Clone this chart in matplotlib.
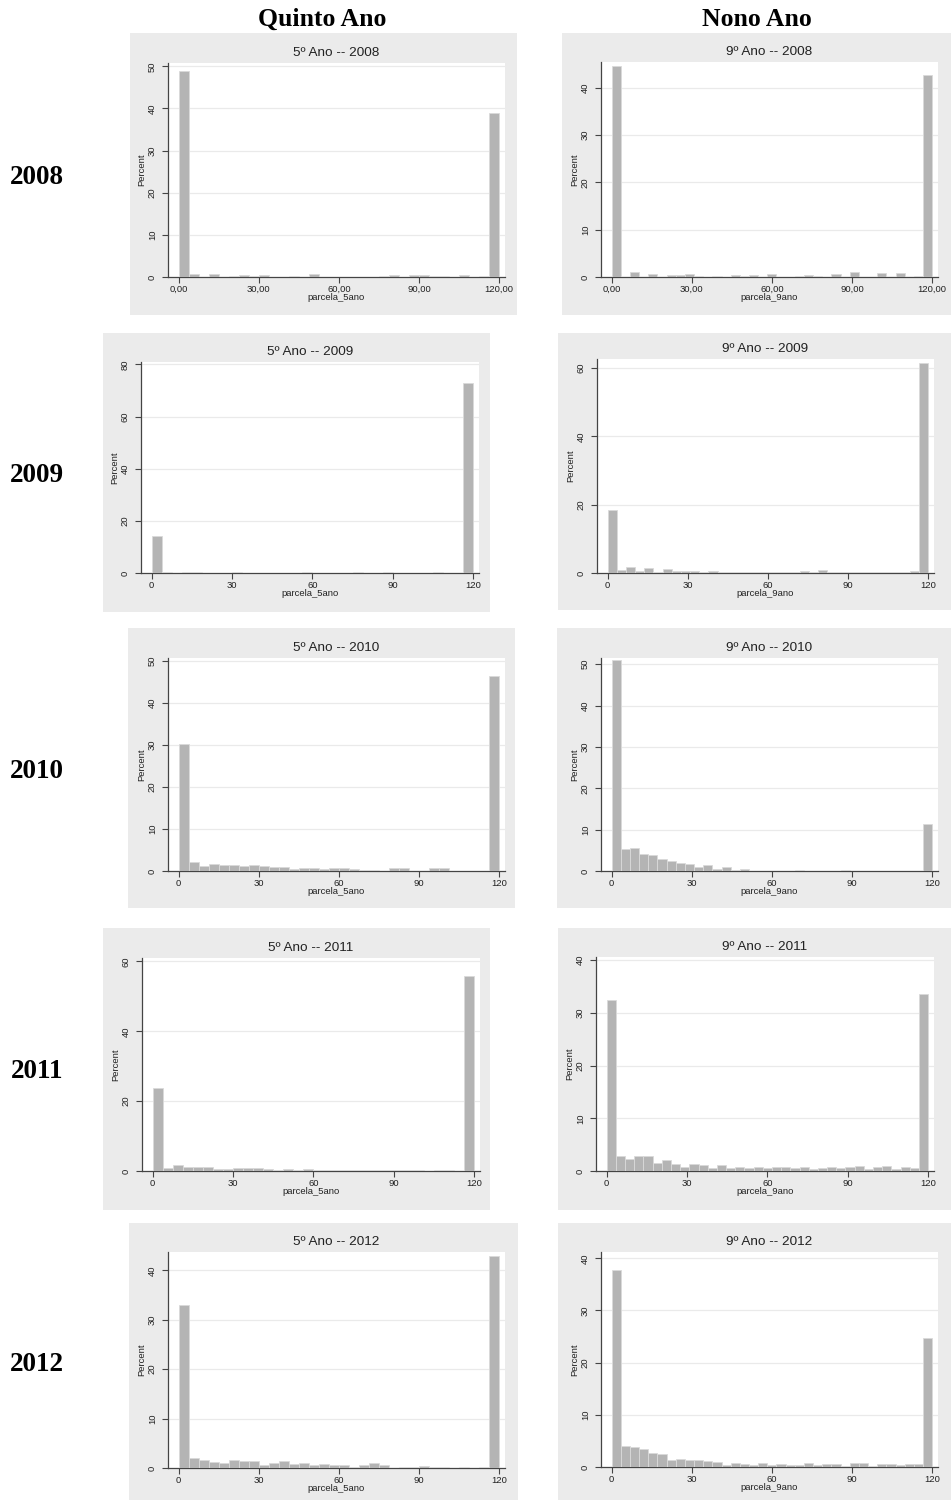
import matplotlib
matplotlib.use("Agg")
import matplotlib.pyplot as plt
from matplotlib.patches import Rectangle

W, H = 951, 1501

# Percent per bin, 5º ano uses 32 bins and 9º ano 35 bins over 0-120
ano5_2008 = [48.8, 0.8, 0, 0.8, 0, 0.3, 0.5, 0.3, 0.5, 0, 0, 0.3, 0, 0.8, 0, 0,
             0, 0, 0, 0, 0.3, 0.5, 0, 0.5, 0.5, 0.3, 0.3, 0, 0.5, 0, 0.3, 38.9]
ano9_2008 = [44.6, 0, 1.0, 0, 0.7, 0, 0.5, 0.5, 0.7, 0.3, 0, 0.3, 0, 0.5, 0.3, 0.5,
             0, 0.7, 0, 0, 0.3, 0.5, 0.3, 0, 0.7, 0, 1.0, 0, 0, 0.8, 0, 0.8, 0, 0.3, 42.7]
ano5_2009 = [14.3, 0.4, 0, 0.4, 0.4, 0, 0, 0, 0.4, 0, 0, 0, 0, 0, 0, 0.4,
             0, 0, 0, 0, 0.4, 0, 0, 0.4, 0, 0, 0, 0, 0.4, 0, 0, 73.0]
ano9_2009 = [18.3, 1.0, 1.9, 0.7, 1.4, 0.4, 1.2, 0.6, 0.6, 0.6, 0.3, 0.6, 0.2, 0.3, 0.2, 0.3,
             0.3, 0.2, 0.2, 0.3, 0.2, 0.6, 0.2, 0.9, 0.2, 0.3, 0.2, 0.2, 0.3, 0.2, 0.3, 0.2,
             0.3, 0.6, 61.5]
ano5_2010 = [30.2, 2.1, 1.2, 1.6, 1.4, 1.4, 1.2, 1.4, 1.3, 1.0, 1.0, 0.4, 0.8, 0.8, 0.4, 0.6,
             0.8, 0.5, 0.3, 0.3, 0.1, 0.6, 0.6, 0.1, 0.1, 0.6, 0.6, 0.1, 0, 0, 0.1, 46.4]
ano9_2010 = [51.0, 5.3, 5.6, 4.2, 3.8, 2.8, 2.4, 2.0, 1.8, 1.0, 1.4, 0.6, 1.0, 0.3, 0.6, 0.1,
             0.1, 0.1, 0.1, 0.1, 0.3, 0.1, 0.1, 0.1, 0.1, 0.3, 0.1, 0.1, 0.1, 0.1, 0.1, 0.1,
             0.1, 0.1, 11.3]
ano5_2011 = [23.8, 0.9, 1.6, 1.1, 1.1, 1.1, 0.6, 0.6, 0.9, 0.9, 0.9, 0.6, 0.3, 0.6, 0.2, 0.6,
             0.3, 0.2, 0.3, 0.2, 0.3, 0.2, 0.3, 0.2, 0.3, 0.3, 0.3, 0.1, 0.2, 0.3, 0.1, 55.9]
ano9_2011 = [32.4, 2.8, 2.2, 2.8, 2.8, 1.6, 2.0, 1.3, 0.8, 1.3, 1.1, 0.5, 1.1, 0.5, 0.7, 0.5,
             0.8, 0.5, 0.7, 0.7, 0.5, 0.7, 0.3, 0.5, 0.8, 0.5, 0.7, 1.0, 0.3, 0.8, 1.0, 0.3,
             0.8, 0.5, 33.6]
ano5_2012 = [32.9, 2.0, 1.6, 1.2, 1.0, 1.7, 1.35, 1.35, 0.7, 1.0, 1.35, 0.9, 1.0, 0.7, 0.9, 0.7,
             0.7, 0.3, 0.7, 1.0, 0.7, 0.1, 0.3, 0.3, 0.5, 0.3, 0.3, 0.1, 0.3, 0.1, 0.3, 42.8]
ano9_2012 = [37.7, 4.1, 3.9, 3.4, 2.7, 2.4, 1.4, 1.6, 1.3, 1.3, 1.1, 1.0, 0.45, 0.8, 0.6, 0.45,
             0.8, 0.45, 0.6, 0.45, 0.3, 0.8, 0.3, 0.6, 0.6, 0.1, 0.8, 0.8, 0.1, 0.6, 0.6, 0.3,
             0.6, 0.6, 24.7]

years = ["2008", "2009", "2010", "2011", "2012"]
series5 = [ano5_2008, ano5_2009, ano5_2010, ano5_2011, ano5_2012]
series9 = [ano9_2008, ano9_2009, ano9_2010, ano9_2011, ano9_2012]
xticks = [0, 30, 60, 90, 120]
ystep5 = [10, 20, 10, 20, 10]
ystep9 = [10, 20, 10, 10, 10]

# layout in pixels: grey panel, plot region, y limit top
left_panels = [
    ((130, 33, 517, 315), (168, 63, 505, 277), 50.8),
    ((103, 333, 490, 612), (141, 362, 479, 573), 80.9),
    ((128, 628, 515, 908), (168, 658, 505, 871), 50.6),
    ((103, 928, 490, 1210), (142, 958, 480, 1171), 61.0),
    ((129, 1223, 518, 1500), (168, 1252, 505, 1468), 43.7),
]
right_panels = [
    ((562, 33, 951, 315), (601, 62, 938, 277), 45.5),
    ((558, 333, 951, 610), (597, 359, 934, 573), 62.6),
    ((557, 628, 951, 908), (601, 658, 938, 871), 51.5),
    ((558, 928, 951, 1210), (596, 957, 934, 1171), 40.6),
    ((558, 1223, 951, 1500), (601, 1252, 938, 1467), 41.2),
]

PANEL_BG = "#ebebeb"
BAR = "#b4b4b4"
SANS = ["Liberation Sans", "DejaVu Sans"]
SERIF = ["Liberation Serif", "DejaVu Serif"]
SMALL = 6.8


def frac(box):
    x0, y0, x1, y1 = box
    return [x0 / W, 1 - y1 / H, (x1 - x0) / W, (y1 - y0) / H]


def draw_panel(fig, grey, plot, ytop, values, step, title, xname, decimals):
    gx, gy, gw, gh = frac(grey)
    fig.patches.append(Rectangle((gx, gy), gw, gh, transform=fig.transFigure,
                                 facecolor=PANEL_BG, edgecolor="none", zorder=-10))
    ax = fig.add_axes(frac(plot))
    ax.set_facecolor("white")
    nb = len(values)
    width = 120 / nb
    edges = [i * width for i in range(nb)]
    ax.bar(edges, values, width=width, align="edge", color=BAR,
           edgecolor="#dadada", linewidth=0.6, zorder=3)
    ax.set_xlim(-4, 122.2)
    ax.set_ylim(0, ytop)
    yt = list(range(0, int(ytop) + 1, step))
    ax.set_yticks(yt)
    for v in yt[1:]:
        ax.axhline(v, color="#eaeaea", lw=0.9, zorder=1)
    ax.set_xticks(xticks)
    if decimals:
        ax.set_xticklabels([f"{t},00" for t in xticks])
    for s in ("top", "right"):
        ax.spines[s].set_visible(False)
    for s in ("left", "bottom"):
        ax.spines[s].set_color("#444444")
        ax.spines[s].set_linewidth(0.9)
    ax.tick_params(length=4, width=0.8, color="#444444", labelsize=SMALL,
                   labelcolor="#222222", pad=1.5)
    ax.tick_params(axis="y", pad=4)
    for lab in ax.get_yticklabels():
        lab.set_rotation(90)
        lab.set_va("center")
        lab.set_family(SANS)
    for lab in ax.get_xticklabels():
        lab.set_family(SANS)
    ax.set_ylabel("Percent", fontsize=SMALL, family=SANS, color="#222222", labelpad=1)
    ax.set_xlabel(xname, fontsize=SMALL, family=SANS, color="#222222", labelpad=-0.5)
    ax.set_title(title, fontsize=9.7, family=SANS, color="#222222", pad=5)
    return ax


fig = plt.figure(figsize=(W / 100, H / 100), dpi=100)
fig.patch.set_facecolor("white")

for i, yr in enumerate(years):
    g, p, top = left_panels[i]
    draw_panel(fig, g, p, top, series5[i], ystep5[i], f"5º Ano -- {yr}",
               "parcela_5ano", i == 0)
    g, p, top = right_panels[i]
    draw_panel(fig, g, p, top, series9[i], ystep9[i], f"9º Ano -- {yr}",
               "parcela_9ano", i == 0)
    # row label centred on the left panel
    cy = (left_panels[i][0][1] + left_panels[i][0][3]) / 2 + 3
    fig.text(37 / W, 1 - cy / H, yr, ha="center", va="center",
             fontsize=19.5, fontweight="bold", family=SERIF)

fig.text(322 / W, 1 - 19 / H, "Quinto Ano", ha="center", va="center",
         fontsize=18.5, fontweight="bold", family=SERIF)
fig.text(757 / W, 1 - 19 / H, "Nono Ano", ha="center", va="center",
         fontsize=18.5, fontweight="bold", family=SERIF)

fig.savefig("out.png", dpi=100)
